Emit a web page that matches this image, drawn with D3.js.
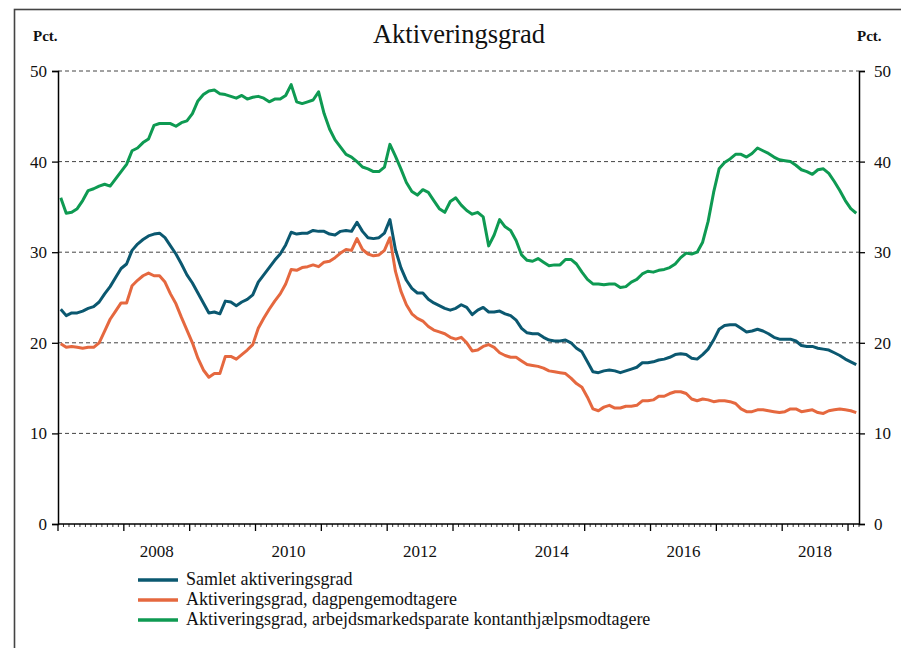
<!DOCTYPE html>
<html><head><meta charset="utf-8">
<script src="https://cdn.jsdelivr.net/npm/d3@7"></script>
<style>body{margin:0;background:#fff}svg{display:block}</style>
</head><body>
<svg id="c" width="901" height="648"></svg>
<script>
const startYear = 2007;
const yTicks = [0,10,20,30,40,50];
const yearLabels = [2008,2010,2012,2014,2016,2018];
const seriesNames = ["Samlet aktiveringsgrad","Aktiveringsgrad, dagpengemodtagere","Aktiveringsgrad, arbejdsmarkedsparate kontanthjælpsmodtagere"];
const seriesColors = ["#0b5870","#e5683f","#0e9a52"];
const samlet = [23.7,23.0,23.3,23.3,23.5,23.8,24.0,24.5,25.4,26.2,27.2,28.2,28.7,30.2,30.9,31.4,31.8,32.0,32.1,31.6,30.7,29.8,28.7,27.5,26.6,25.5,24.4,23.3,23.4,23.2,24.6,24.5,24.1,24.5,24.8,25.3,26.7,27.5,28.3,29.1,29.8,30.8,32.2,32.0,32.1,32.1,32.4,32.3,32.3,32.0,31.9,32.3,32.4,32.3,33.3,32.3,31.6,31.5,31.6,32.1,33.6,30.3,28.3,26.9,26.0,25.5,25.5,24.8,24.4,24.1,23.8,23.6,23.8,24.2,23.9,23.1,23.6,23.9,23.4,23.4,23.5,23.2,23.0,22.5,21.6,21.1,21.0,21.0,20.6,20.3,20.2,20.2,20.3,20.0,19.4,19.0,17.9,16.8,16.7,16.9,17.0,16.9,16.7,16.9,17.1,17.3,17.8,17.8,17.9,18.1,18.2,18.4,18.7,18.8,18.7,18.3,18.2,18.7,19.3,20.3,21.5,21.9,22.0,22.0,21.6,21.2,21.3,21.5,21.3,21.0,20.6,20.4,20.4,20.4,20.2,19.7,19.6,19.6,19.4,19.3,19.2,18.9,18.6,18.2,17.9,17.6];
const dagpenge = [19.9,19.5,19.6,19.5,19.4,19.5,19.5,20.0,21.3,22.6,23.5,24.4,24.4,26.3,26.9,27.4,27.7,27.4,27.4,26.7,25.4,24.3,22.8,21.4,20.0,18.3,17.0,16.2,16.6,16.6,18.5,18.5,18.2,18.7,19.2,19.8,21.6,22.7,23.7,24.6,25.4,26.5,28.1,28.0,28.3,28.4,28.6,28.4,28.9,29.0,29.4,29.9,30.3,30.2,31.5,30.3,29.8,29.6,29.7,30.2,31.6,27.9,25.7,24.2,23.2,22.7,22.4,21.8,21.4,21.2,21.0,20.6,20.4,20.6,20.0,19.1,19.2,19.6,19.8,19.5,18.9,18.6,18.4,18.4,18.0,17.6,17.5,17.4,17.2,16.9,16.8,16.7,16.6,16.1,15.5,15.1,14.0,12.7,12.5,12.9,13.1,12.8,12.8,13.0,13.0,13.1,13.6,13.6,13.7,14.1,14.1,14.4,14.6,14.6,14.4,13.8,13.6,13.8,13.7,13.5,13.6,13.6,13.5,13.3,12.7,12.4,12.4,12.6,12.6,12.5,12.4,12.3,12.4,12.7,12.7,12.4,12.5,12.6,12.3,12.2,12.5,12.6,12.7,12.6,12.5,12.3];
const kontant = [36.0,34.3,34.4,34.8,35.7,36.8,37.0,37.3,37.5,37.3,38.1,38.9,39.7,41.2,41.5,42.1,42.5,44.0,44.2,44.2,44.2,43.9,44.3,44.5,45.3,46.7,47.4,47.8,47.9,47.5,47.4,47.2,47.0,47.3,46.9,47.1,47.2,47.0,46.6,46.9,46.9,47.3,48.5,46.6,46.4,46.6,46.8,47.7,45.3,43.6,42.4,41.6,40.8,40.5,40.0,39.4,39.2,38.9,38.9,39.4,41.9,40.6,39.2,37.7,36.7,36.3,36.9,36.6,35.7,34.8,34.4,35.6,36.0,35.2,34.6,34.2,34.4,33.9,30.7,31.9,33.6,32.8,32.4,31.3,29.7,29.1,29.0,29.3,28.9,28.5,28.6,28.6,29.2,29.2,28.7,27.8,27.0,26.5,26.5,26.4,26.5,26.5,26.1,26.2,26.7,27.0,27.6,27.9,27.8,28.0,28.1,28.3,28.7,29.4,29.9,29.8,30.0,31.1,33.4,36.6,39.2,39.9,40.3,40.8,40.8,40.5,40.9,41.5,41.2,40.9,40.5,40.2,40.1,40.0,39.6,39.1,38.9,38.6,39.1,39.2,38.7,37.8,36.8,35.7,34.8,34.3];
const series = [samlet, dagpenge, kontant];

const svg = d3.select("#c");
const font = "Liberation Serif";
const L = 58, R = 859, T = 71, B = 524;
const n = samlet.length;
const x = d3.scaleLinear().domain([0, n]).range([L, R]);
const y = d3.scaleLinear().domain([0, 50]).range([B, T]);

// frame
svg.append("rect").attr("x",14.5).attr("y",9.5).attr("width",950).attr("height",700)
  .attr("fill","none").attr("stroke","#444").attr("stroke-width",1.6);

// title
svg.append("text").attr("x",459).attr("y",43).attr("text-anchor","middle")
  .style("font-family",font).attr("font-size",26.5).attr("fill","#111").text("Aktiveringsgrad");
svg.append("text").attr("x",33).attr("y",41).style("font-family",font).attr("font-weight","bold")
  .attr("font-size",15).attr("fill","#111").text("Pct.");
svg.append("text").attr("x",857).attr("y",41).style("font-family",font).attr("font-weight","bold")
  .attr("font-size",15).attr("fill","#111").text("Pct.");

// gridlines
svg.append("g").selectAll("line").data(yTicks.filter(d=>d>0)).join("line")
  .attr("x1",L).attr("x2",R).attr("y1",d=>y(d)).attr("y2",d=>y(d))
  .attr("stroke","#444").attr("stroke-width",1).attr("stroke-dasharray","4,3");

// y axes
const yl = svg.append("g").attr("transform",`translate(${L},0)`)
  .call(d3.axisLeft(y).tickValues(yTicks).tickSize(6).tickPadding(5));
const yr = svg.append("g").attr("transform",`translate(${R},0)`)
  .call(d3.axisRight(y).tickValues(yTicks).tickSize(6).tickPadding(9));
[yl,yr].forEach(g=>{
  g.attr("font-family",null);
  g.select(".domain").attr("stroke","#000").attr("stroke-width",1.5);
  g.selectAll(".tick line").attr("stroke","#000").attr("stroke-width",1.3);
  g.selectAll("text").style("font-family",font).attr("font-size",17).attr("fill","#111");
});

// x axis
const minor = d3.range(0, n+1);
const xg = svg.append("g").attr("transform",`translate(0,${B})`);
xg.append("line").attr("x1",L).attr("x2",R).attr("stroke","#000").attr("stroke-width",1.5);
xg.selectAll("line.t").data(minor).join("line").attr("class","t")
  .attr("x1",d=>x(d)).attr("x2",d=>x(d)).attr("y1",0)
  .attr("y2",d=>d%12===0?7:3).attr("stroke","#000").attr("stroke-width",d=>d%12===0?1.3:0.8);
xg.selectAll("text").data(yearLabels).join("text")
  .attr("x",d=>x((d-startYear)*12+6)).attr("y",33).attr("text-anchor","middle")
  .style("font-family",font).attr("font-size",17).attr("fill","#111").text(d=>d);

// lines
const line = d3.line().x((d,i)=>x(i+0.5)).y(d=>y(d));
[2,1,0].forEach(k=>{
  svg.append("path").datum(series[k]).attr("d",line).attr("fill","none")
    .attr("stroke",seriesColors[k]).attr("stroke-width",3).attr("stroke-linejoin","round");
});

// legend
const lg = svg.append("g");
seriesNames.forEach((s,k)=>{
  const yy = 580 + k*20;
  lg.append("line").attr("x1",138).attr("x2",178).attr("y1",yy).attr("y2",yy)
    .attr("stroke",seriesColors[k]).attr("stroke-width",3.5);
  lg.append("text").attr("x",186).attr("y",yy+5).style("font-family",font).attr("font-size",18)
    .attr("fill","#111").text(s);
});
</script>
</body></html>
